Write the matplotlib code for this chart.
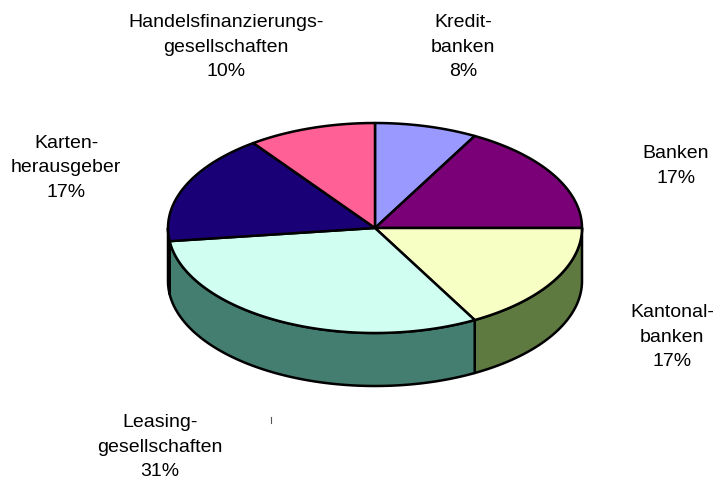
import numpy as np
import matplotlib
matplotlib.use("Agg")
import matplotlib.pyplot as plt
from matplotlib.patches import Polygon

# ---- data ----
labels = ["Kredit-\nbanken", "Banken", "Kantonal-\nbanken", "Leasing-\ngesellschaften",
          "Karten-\nherausgeber", "Handelsfinanzierungs-\ngesellschaften"]
values = [8, 17, 17, 31, 17, 10]
top_colors = ["#9999FF", "#7A0077", "#F8FFC4", "#D0FFF2", "#1A0077", "#FF6095"]
side_colors = ["#4C4C80", "#3D003C", "#5E7A40", "#447E70", "#0D003C", "#803048"]

# ---- style / layout ----
label_xy = [(463, 47), (676, 166), (672, 337), (160, 447), (66, 168), (226, 47)]
cx, cy, rx, ry, depth = 375, 228, 207, 105, 53
lw = 1.8

fig = plt.figure(figsize=(7.2, 4.82), dpi=100)
ax = fig.add_axes([0, 0, 1, 1])
ax.set_xlim(0, 720)
ax.set_ylim(482, 0)
ax.axis("off")


def arc(t0, t1, dy=0.0, n=120):
    t = np.radians(np.linspace(t0, t1, n))
    return np.column_stack([cx + rx * np.cos(t), cy - ry * np.sin(t) + dy])


total = float(sum(values))
cum = np.concatenate([[0], np.cumsum(values)]) / total * 360.0
starts = 90 - cum[:-1]
ends = 90 - cum[1:]

# side walls (front half: angles between -180 and 0)
for s, e, sc in zip(starts, ends, side_colors):
    a = min(s, 0)
    b = max(e, -180)
    if a > b:
        top = arc(a, b)
        bot = arc(b, a, dy=depth)
        ax.add_patch(Polygon(np.vstack([top, bot]), closed=True, facecolor=sc,
                             edgecolor="black", lw=lw, joinstyle="round", zorder=1))

# top wedges
for s, e, tc in zip(starts, ends, top_colors):
    pts = np.vstack([[cx, cy], arc(s, e)])
    ax.add_patch(Polygon(pts, closed=True, facecolor=tc, edgecolor="black",
                         lw=lw, joinstyle="round", zorder=2))

# labels
for lab, v, (x, y) in zip(labels, values, label_xy):
    ax.text(x, y, f"{lab}\n{v}%", ha="center", va="center", fontsize=14,
            family="Liberation Sans", linespacing=1.55, color="black")

# small stray tick mark seen in the original
ax.plot([271, 271], [417, 423], color="#555555", lw=0.8)

fig.savefig("out.png", dpi=100)
